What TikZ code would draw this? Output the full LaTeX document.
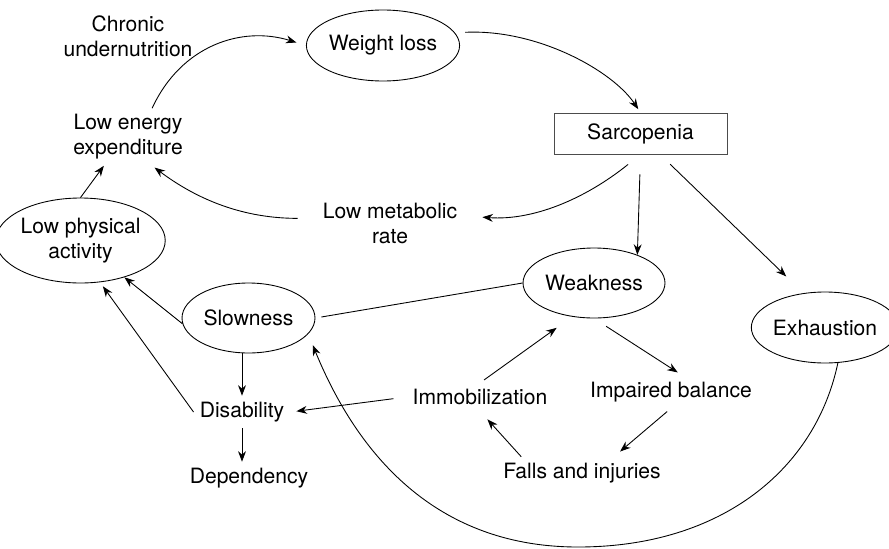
\documentclass[tikz,border=0pt]{standalone}
\usepackage{fontspec}
\setmainfont{TeX Gyre Heros}
\usetikzlibrary{arrows.meta, shapes.geometric}

\begin{document}
\begin{tikzpicture}[x=0.02cm, y=-0.02cm, line width=0.5pt,
  font=\fontsize{12}{14.2}\selectfont,
  blob/.style={ellipse, draw, inner sep=0pt},
  lbl/.style={align=center},
  arr/.style={-{Stealth[length=6pt, width=4.5pt]}}]

\useasboundingbox (0,0) rectangle (889,548);

% Ellipses
\node[blob, minimum width=2.74cm, minimum height=1.42cm] (wloss) at (383,45.5) {Weight loss};
\node[blob, minimum width=2.94cm, minimum height=1.7cm, align=center] (lowphys) at (80.5,240.5) {Low physical\\activity};
\node[blob, minimum width=2.84cm, minimum height=1.4cm] (weak) at (594,283) {Weakness};
\node[blob, minimum width=2.66cm, minimum height=1.4cm] (slow) at (248.5,318) {Slowness};
\node[blob, minimum width=2.52cm, minimum height=1.42cm] (exhaust) at (825,327.5) {Exhaustion};

% The one box
\node[draw=black!70, minimum width=3.46cm, minimum height=0.82cm] (sarco) at (640.5,133.5) {Sarcopenia};

% Plain labels
\node[lbl] (chronic) at (128,36.5) {Chronic\\undernutrition};
\node[lbl] (lowenergy) at (128,137) {Low energy\\expenditure};
\node[lbl] (lowmeta) at (390,223.5) {Low metabolic\\rate};
\node[lbl] (disab) at (242,412) {Disability};
\node[lbl] (depend) at (249,478) {Dependency};
\node[lbl] (immob) at (480,397) {Immobilization};
\node[lbl] (balance) at (671,392) {Impaired balance};
\node[lbl] (falls) at (582,473) {Falls and injuries};
\coordinate (bottom) at (578,547);

% Upper loop
\draw[arr, shorten >=0.2cm] (lowenergy.50) .. controls +(29,-63) and +(-64,-20) .. (wloss.west);
\draw[arr, shorten <=0.2cm, shorten >=0.08cm] (wloss.10) .. controls +(82,-4) and +(-28,-42) .. (sarco.north);
\draw[arr, shorten <=0.32cm, shorten >=0.38cm] (sarco.south) .. controls +(-56,45) and +(69,5) .. (lowmeta.6);
\draw[arr, shorten <=0.38cm, shorten >=0.06cm] (lowmeta.176) .. controls +(-79,0) and +(40,30) .. (lowenergy.-50);
\draw[arr] (lowphys.north) -- (lowenergy.-130);

% Out of sarcopenia
\draw[arr, shorten <=0.4cm] (sarco.south) -- (weak.33);
\draw[arr, shorten <=0.28cm, shorten >=0.48cm] (sarco.-47) -- (exhaust.122);

% Lower part
\draw[shorten <=0.12cm] (slow.east) -- (weak.west);
\draw[arr] (slow.185) -- (lowphys.-40);
\draw[arr, shorten >=0.1cm] (disab.west) -- (lowphys.-65);
\draw[arr] (slow.south -| disab.north) -- (disab.north);
\draw[arr] (disab.south) -- (disab.south |- depend.north);
\draw[arr, shorten <=0.26cm, shorten >=0.12cm] (immob.west) -- (disab.east);

% Falls cycle
\draw[arr, shorten <=0.1cm, shorten >=0.38cm] (immob.north) -- (weak.237);
\draw[arr, shorten <=0.29cm, shorten >=0.12cm] (weak.south) -- (balance.54);
\draw[arr, shorten <=0.1cm, shorten >=0.16cm] (balance.south) -- (falls.27);
\draw[arr, shorten >=0.22cm] (falls.165) -- (immob.south);

% Exhaustion back to slowness
\draw[arr, shorten >=0.24cm] (exhaust.-70) .. controls +(-22,105) and +(145,0) .. (bottom)
  .. controls +(-150,0) and +(45,110) .. (slow.-15);

\end{tikzpicture}
\end{document}
